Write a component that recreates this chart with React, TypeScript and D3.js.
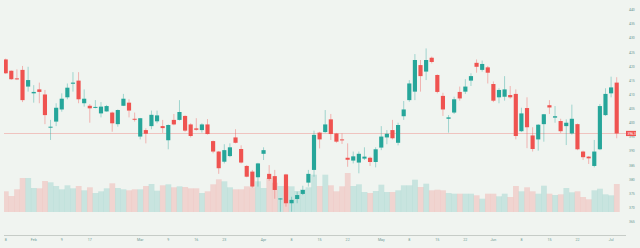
import React, { FC } from 'react';
import * as d3 from 'd3';

// daily bars
const opens = [
  422.5, 418.5, 415.8, 418.8, 412.9, 410.5, 411.9, 410.1, 398.5, 400.5,
  404.8, 409.1, 413.9, 415.0, 407.0, 406.1, 405.4, 403.4, 404.1, 403.7,
  399.6, 406.1, 407.2, 401.5, 395.2, 397.5, 398.9, 400.6, 398.9, 393.9,
  401.1, 401.1, 402.5, 399.5, 398.1, 397.5, 399.5, 393.6, 389.9, 386.3,
  388.3, 394.9, 390.8, 384.8, 382.8, 380.8, 389.1, 382.0, 381.2, 373.0,
  381.8, 371.6, 373.1, 374.9, 378.9, 383.4, 396.6, 396.8, 401.3, 396.3,
  394.2, 387.7, 386.7, 386.0, 387.4, 387.7, 386.2, 391.3, 394.9, 397.5,
  393.0, 402.4, 408.1, 411.1, 420.5, 418.2, 423.1, 417.0, 409.6, 401.5,
  403.7, 411.0, 411.1, 415.0, 421.3, 418.8, 419.7, 413.8, 409.1, 409.3,
  409.9, 410.3, 397.1, 405.3, 395.6, 394.2, 399.6, 406.3, 401.9, 400.7,
  398.9, 396.3, 399.6, 389.9, 388.1, 384.8, 390.7, 402.8, 410.5, 414.3,
];
const highs = [
  422.8, 418.6, 419.0, 420.2, 419.9, 413.4, 414.3, 411.7, 401.1, 407.0,
  410.5, 414.0, 418.0, 418.0, 411.9, 406.7, 408.1, 407.4, 406.4, 404.0,
  404.8, 410.3, 408.4, 403.7, 401.8, 398.1, 404.4, 404.4, 401.1, 399.5,
  403.2, 408.1, 402.7, 399.9, 401.7, 399.9, 401.4, 393.8, 390.1, 392.5,
  392.8, 397.8, 392.1, 385.1, 383.4, 385.9, 391.4, 385.1, 383.4, 373.4,
  382.0, 373.9, 375.7, 377.8, 383.4, 397.3, 396.9, 404.6, 403.2, 396.5,
  396.3, 392.8, 389.9, 389.9, 391.4, 388.1, 391.4, 398.9, 397.5, 401.1,
  400.1, 407.8, 415.2, 424.4, 422.3, 426.4, 423.5, 417.2, 410.7, 402.8,
  409.3, 412.9, 415.5, 417.6, 422.5, 422.1, 420.2, 414.7, 412.3, 416.6,
  413.1, 411.9, 405.4, 409.1, 398.5, 399.6, 403.2, 408.1, 406.0, 401.5,
  401.3, 406.5, 399.8, 390.2, 388.3, 394.0, 406.7, 412.3, 416.4, 416.2,
];
const lows = [
  417.4, 415.3, 415.2, 407.4, 411.1, 407.2, 407.0, 399.6, 394.0, 398.9,
  404.0, 408.4, 411.1, 407.0, 405.8, 400.1, 405.2, 402.0, 404.0, 396.9,
  398.7, 406.0, 402.0, 400.5, 394.2, 392.8, 397.8, 399.9, 396.5, 390.7,
  399.2, 400.9, 396.9, 394.9, 397.3, 396.6, 395.9, 389.3, 382.0, 385.7,
  387.9, 392.8, 385.7, 380.8, 377.1, 377.5, 386.9, 379.6, 373.2, 368.6,
  370.4, 368.6, 371.6, 374.5, 377.5, 381.0, 391.0, 396.5, 394.0, 393.0,
  392.6, 384.5, 385.7, 382.2, 386.9, 384.8, 384.3, 390.4, 392.5, 394.2,
  392.1, 401.1, 407.5, 408.1, 411.1, 415.2, 421.1, 410.5, 402.5, 396.6,
  403.2, 407.9, 410.3, 413.1, 417.8, 418.2, 414.0, 407.4, 407.0, 407.9,
  408.6, 394.2, 396.8, 391.1, 389.9, 390.2, 393.4, 403.2, 400.1, 396.5,
  392.2, 395.9, 390.4, 386.9, 385.5, 384.3, 390.4, 402.5, 409.1, 394.6,
];
const closes = [
  417.6, 415.5, 415.6, 408.1, 415.2, 411.0, 411.0, 402.8, 398.7, 405.4,
  408.6, 412.5, 414.3, 408.4, 408.6, 405.2, 405.7, 405.8, 406.0, 399.9,
  404.6, 408.6, 404.4, 401.2, 401.7, 396.2, 402.9, 402.7, 398.2, 399.3,
  399.5, 403.9, 397.3, 395.4, 397.6, 399.5, 396.1, 389.9, 384.0, 390.4,
  391.4, 393.0, 386.0, 381.0, 377.5, 385.7, 390.4, 380.2, 376.3, 373.3,
  371.6, 372.8, 374.5, 376.3, 382.0, 395.8, 394.2, 399.5, 396.1, 393.4,
  393.9, 387.0, 388.2, 389.1, 388.1, 386.2, 390.7, 395.2, 396.2, 394.6,
  399.3, 404.8, 414.0, 422.3, 416.6, 422.3, 421.6, 411.0, 404.8, 402.0,
  408.4, 408.7, 412.9, 416.6, 419.9, 420.9, 417.8, 407.9, 411.7, 411.9,
  409.1, 395.4, 403.4, 398.5, 390.8, 399.4, 403.1, 405.5, 402.4, 397.1,
  400.1, 401.5, 390.7, 387.9, 387.5, 389.9, 406.0, 410.3, 412.6, 396.3,
];
// millions of shares
const volumes = [
  2.07, 1.6, 2.27, 3.4, 3.4, 2.4, 2.37, 3.1, 2.97, 2.6,
  2.27, 2.67, 2.37, 2.6, 2.17, 2.47, 1.9, 2.07, 2.37, 2.87,
  2.4, 2.27, 2.17, 2.27, 2.27, 2.6, 2.8, 2.13, 2.67, 2.77,
  2.47, 2.57, 2.5, 2.37, 2.37, 1.9, 2.07, 2.77, 3.27, 3.07,
  2.47, 2.27, 2.27, 2.57, 2.47, 3.07, 2.4, 3.4, 2.93, 2.6,
  2.6, 2.57, 2.1, 2.27, 2.47, 3.73, 2.6, 3.73, 2.67, 2.07,
  2.57, 3.9, 2.6, 2.77, 2.0, 1.9, 2.1, 2.73, 2.0, 2.0,
  2.17, 2.67, 2.67, 3.23, 2.5, 2.83, 2.17, 2.23, 2.17, 1.9,
  1.83, 1.83, 1.83, 1.83, 1.67, 1.33, 1.83, 1.83, 1.57, 1.83,
  1.5, 2.6, 2.07, 2.47, 2.07, 1.83, 2.63, 1.83, 1.7, 1.77,
  2.4, 1.97, 2.07, 1.5, 1.27, 2.17, 2.33, 1.77, 1.67, 2.8,
];

const timeTickBars = [0, 5, 10, 15, 24, 29, 34, 39, 46, 51, 56, 61, 67, 72, 77, 82, 87, 92, 97, 102, 108];
const timeTickLabels = ['8', 'Feb', '9', '17', 'Mar', '9', '16', '23', 'Apr', '8', '15', '22', 'May', '8', '15', '22', 'Jun', '8', '15', '22', 'Jul'];
const priceTicks = [440, 435, 430, 425, 420, 415, 410, 405, 400, 395, 390, 385, 380, 375, 370, 365];

const W = 640;
const H = 248;
const UP = '#26a69a';
const DOWN = '#ef5350';
const BG = '#f0f4f0';
const TEXT = '#6b9a93';

const App: FC = () => (
  <div
    style={{ position: 'absolute', left: 0, top: 0, width: W, height: H, background: BG }}
    ref={(elem) => {
      if (!elem) {
        return;
      }
      const svg = chart();
      if (!svg) {
        return;
      }
      elem.innerHTML = '';
      elem.appendChild(svg);
    }}
  />
);

const chart = () => {
  const n = opens.length;
  const plot = { left: 4, right: 626, bottom: 235.5 };

  const x = d3.scalePoint<number>().domain(d3.range(n)).range([5.7, 616.7]);
  const step = x.step();
  const y = d3.scaleLinear().domain([365, 440]).range([221.9, 10]);
  const v = d3.scaleLinear().domain([0, 4]).range([212, 172]);
  const isUp = (i: number) => closes[i] >= opens[i];

  const svg = d3
    .create('svg')
    .attr('width', W)
    .attr('height', H)
    .attr('viewBox', `0 0 ${W} ${H}`)
    .style('display', 'block')
    .style('font-family', 'Roboto, "DejaVu Sans", sans-serif');

  svg.append('rect').attr('width', W).attr('height', H).attr('fill', BG);

  svg
    .append('clipPath')
    .attr('id', 'plot')
    .append('rect')
    .attr('x', plot.left)
    .attr('y', 0)
    .attr('width', plot.right - plot.left)
    .attr('height', plot.bottom);

  const g = svg.append('g').attr('clip-path', 'url(#plot)');

  // volume
  g.append('g')
    .selectAll('rect')
    .data(d3.range(n))
    .join('rect')
    .attr('x', (i) => (x(i) || 0) - step / 2)
    .attr('width', step + 0.2)
    .attr('y', (i) => v(volumes[i]))
    .attr('height', (i) => v(0) - v(volumes[i]))
    .attr('fill', (i) => (isUp(i) ? UP : DOWN))
    .attr('fill-opacity', 0.2);

  // last price line
  const last = closes[n - 1];
  g.append('line')
    .attr('x1', plot.left)
    .attr('x2', plot.right)
    .attr('y1', Math.round(y(last)) + 0.5)
    .attr('y2', Math.round(y(last)) + 0.5)
    .attr('stroke', DOWN)
    .attr('stroke-opacity', 0.3)
    .attr('stroke-width', 1);

  // wicks
  g.append('g')
    .selectAll('line')
    .data(d3.range(n))
    .join('line')
    .attr('x1', (i) => x(i) || 0)
    .attr('x2', (i) => x(i) || 0)
    .attr('y1', (i) => y(highs[i]))
    .attr('y2', (i) => y(lows[i]))
    .attr('stroke', (i) => (isUp(i) ? UP : DOWN))
    .attr('stroke-opacity', 0.4)
    .attr('stroke-width', 1);

  // bodies
  const bw = step * 0.74;
  g.append('g')
    .selectAll('rect')
    .data(d3.range(n))
    .join('rect')
    .attr('x', (i) => (x(i) || 0) - bw / 2)
    .attr('width', bw)
    .attr('y', (i) => y(Math.max(opens[i], closes[i])))
    .attr('height', (i) => Math.max(1, Math.abs(y(opens[i]) - y(closes[i]))))
    .attr('fill', (i) => (isUp(i) ? UP : DOWN));

  // time scale
  svg
    .append('line')
    .attr('x1', plot.left)
    .attr('x2', plot.right)
    .attr('y1', plot.bottom)
    .attr('y2', plot.bottom)
    .attr('stroke', '#c6ccc7')
    .attr('stroke-width', 1);

  svg
    .append('g')
    .selectAll('text')
    .data(timeTickBars)
    .join('text')
    .attr('x', (i) => x(i) || 0)
    .attr('y', 240.6)
    .attr('text-anchor', 'middle')
    .attr('font-size', 3.6)
    .attr('fill', TEXT)
    .text((_, k) => timeTickLabels[k]);

  // price scale
  svg
    .append('g')
    .selectAll('text')
    .data(priceTicks)
    .join('text')
    .attr('x', 629)
    .attr('y', (p) => y(p) + 1.2)
    .attr('font-size', 3.4)
    .attr('fill', TEXT)
    .text((p) => p.toFixed(0));

  const ly = y(last);
  svg
    .append('rect')
    .attr('x', 626)
    .attr('y', ly - 2.6)
    .attr('width', 10)
    .attr('height', 5.2)
    .attr('fill', DOWN);
  svg
    .append('text')
    .attr('x', 627.5)
    .attr('y', ly + 1.2)
    .attr('font-size', 3.4)
    .attr('fill', '#ffffff')
    .text(last.toFixed(1));

  return svg.node();
};

export default App;
